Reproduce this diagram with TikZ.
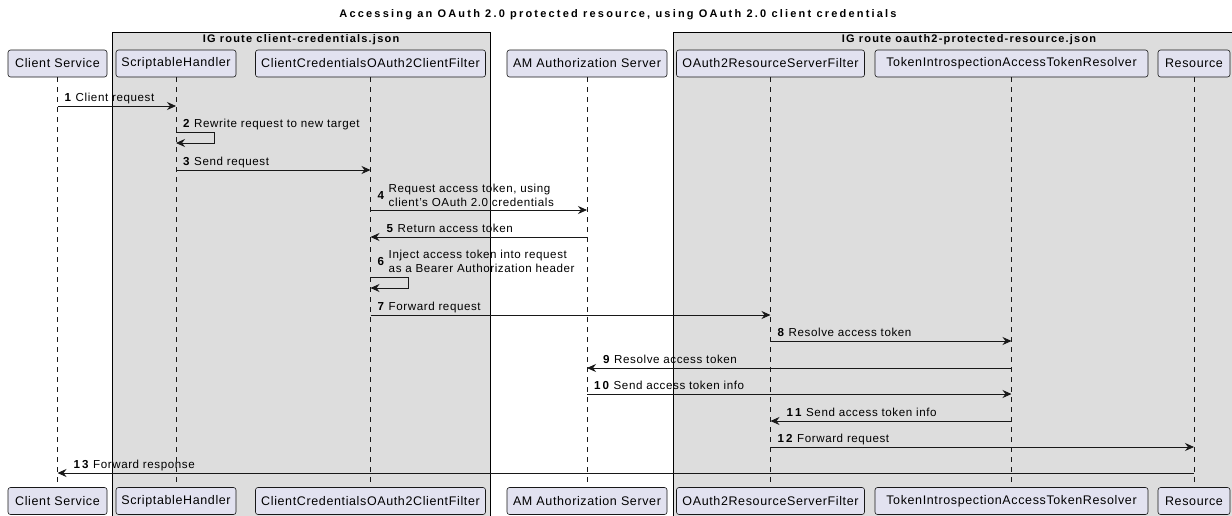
\documentclass[tikz,border=0pt]{standalone}
\usepackage{fontspec}
\setmainfont{Liberation Sans}
\usetikzlibrary{arrows.meta}
\definecolor{partfill}{HTML}{E2E2F0}
\definecolor{inkgray}{HTML}{181818}
\definecolor{groupfill}{HTML}{DDDDDD}
\newcommand{\stepno}[1]{\textbf{#1}\hspace{4pt}}

\begin{document}
\begin{tikzpicture}[x=1pt, y=-1pt, >={Stealth[length=9pt, width=8pt, inset=3pt]},
    partbox/.style={draw=inkgray, fill=partfill, rounded corners=2.5pt, line width=0.6pt,
      inner sep=0pt, minimum height=27pt,
      font=\fontsize{12.5}{15}\selectfont\addfontfeature{LetterSpace=5}},
    groupbox/.style={draw=black, fill=groupfill, line width=0.8pt},
    grouptitle/.style={font=\fontsize{11}{13}\selectfont\bfseries\addfontfeature{LetterSpace=11}, inner sep=0pt},
    lifeline/.style={draw=inkgray, line width=0.5pt, dash pattern=on 5pt off 5pt},
    msg/.style={->, draw=inkgray, line width=0.8pt},
    lbl/.style={font=\fontsize{11.6}{14}\selectfont\addfontfeature{LetterSpace=5}, inner sep=0pt, anchor=base west},
    lbltwo/.style={font=\fontsize{11.6}{14}\selectfont\addfontfeature{LetterSpace=5}, inner sep=0pt, anchor=west}]
  \useasboundingbox (0,0) rectangle (1232,515);
  \clip (0,0) rectangle (1232,515);
  \fill[white] (0,0) rectangle (1232,515);

  \node[font=\fontsize{11}{13}\selectfont\bfseries\addfontfeature{LetterSpace=20}, inner sep=0pt] (title) at (618,15)
    {Accessing an OAuth 2.0 protected resource, using OAuth 2.0 client credentials};

  % boxes round the IG routes
  \path[groupbox] (112,32) rectangle (490,530);
  \path[groupbox] (673,32) rectangle (1266,530);
  \node[grouptitle] (g1) at (301,40) {IG route client-credentials.json};
  \node[grouptitle] (g2) at (969,40) {IG route oauth2-protected-resource.json};

  % participants, top and bottom
  \node[partbox, minimum width=99pt] (cs) at (57.5,63.5) {Client Service};
  \node[partbox, minimum width=120pt] (sh) at (176,63.5) {ScriptableHandler};
  \node[partbox, minimum width=230pt] (ccf) at (370.5,63.5) {ClientCredentialsOAuth2ClientFilter};
  \node[partbox, minimum width=160pt] (am) at (587,63.5) {AM Authorization Server};
  \node[partbox, minimum width=188pt] (rsf) at (770.5,63.5) {OAuth2ResourceServerFilter};
  \node[partbox, minimum width=273pt] (tir) at (1011.5,63.5) {TokenIntrospectionAccessTokenResolver};
  \node[partbox, minimum width=72pt] (res) at (1194,63.5) {Resource};

  \node[partbox, minimum width=99pt] (csB) at (57.5,501) {Client Service};
  \node[partbox, minimum width=120pt] (shB) at (176,501) {ScriptableHandler};
  \node[partbox, minimum width=230pt] (ccfB) at (370.5,501) {ClientCredentialsOAuth2ClientFilter};
  \node[partbox, minimum width=160pt] (amB) at (587,501) {AM Authorization Server};
  \node[partbox, minimum width=188pt] (rsfB) at (770.5,501) {OAuth2ResourceServerFilter};
  \node[partbox, minimum width=273pt] (tirB) at (1011.5,501) {TokenIntrospectionAccessTokenResolver};
  \node[partbox, minimum width=72pt] (resB) at (1194,501) {Resource};

  \draw[lifeline] (cs.south) -- (csB.north);
  \draw[lifeline] (sh.south) -- (shB.north);
  \draw[lifeline] (ccf.south) -- (ccfB.north);
  \draw[lifeline] (am.south) -- (amB.north);
  \draw[lifeline] (rsf.south) -- (rsfB.north);
  \draw[lifeline] (tir.south) -- (tirB.north);
  \draw[lifeline] (res.south) -- (resB.north);

  % message rows
  \coordinate (m1) at (0,106);
  \coordinate (m2) at (0,132);
  \coordinate (m2b) at (0,143);
  \coordinate (m3) at (0,170);
  \coordinate (m4) at (0,210);
  \coordinate (m5) at (0,237);
  \coordinate (m6) at (0,277);
  \coordinate (m6b) at (0,288);
  \coordinate (m7) at (0,315);
  \coordinate (m8) at (0,341);
  \coordinate (m9) at (0,368);
  \coordinate (m10) at (0,394);
  \coordinate (m11) at (0,421);
  \coordinate (m12) at (0,447);
  \coordinate (m13) at (0,473);

  \draw[msg] (cs |- m1) -- (sh |- m1);
  \node[lbl] (l1) at ([shift={(7,-5)}]cs |- m1) {\stepno{1}Client request};

  \draw[msg] (sh |- m2) -- ++(38,0) |- (sh |- m2b);
  \node[lbl] (l2) at ([shift={(7,-5)}]sh |- m2) {\stepno{2}Rewrite request to new target};

  \draw[msg] (sh |- m3) -- (ccf |- m3);
  \node[lbl] (l3) at ([shift={(7,-5)}]sh |- m3) {\stepno{3}Send request};

  \draw[msg] (ccf |- m4) -- (am |- m4);
  \node[lbltwo] (l4) at ([shift={(7,-13.7)}]ccf |- m4)
    {\stepno{4}\begin{tabular}[c]{@{}l@{}}Request access token, using\\client's OAuth 2.0 credentials\end{tabular}};

  \draw[msg] (am |- m5) -- (ccf |- m5);
  \node[lbl] (l5) at ([shift={(16,-5)}]ccf |- m5) {\stepno{5}Return access token};

  \draw[msg] (ccf |- m6) -- ++(38,0) |- (ccf |- m6b);
  \node[lbltwo] (l6) at ([shift={(7,-14.7)}]ccf |- m6)
    {\stepno{6}\begin{tabular}[c]{@{}l@{}}Inject access token into request\\as a Bearer Authorization header\end{tabular}};

  \draw[msg] (ccf |- m7) -- (rsf |- m7);
  \node[lbl] (l7) at ([shift={(7,-5)}]ccf |- m7) {\stepno{7}Forward request};

  \draw[msg] (rsf |- m8) -- (tir |- m8);
  \node[lbl] (l8) at ([shift={(7,-5)}]rsf |- m8) {\stepno{8}Resolve access token};

  \draw[msg] (tir |- m9) -- (am |- m9);
  \node[lbl] (l9) at ([shift={(16,-5)}]am |- m9) {\stepno{9}Resolve access token};

  \draw[msg] (am |- m10) -- (tir |- m10);
  \node[lbl] (l10) at ([shift={(7,-5)}]am |- m10) {\stepno{1\hspace{2pt}0}Send access token info};

  \draw[msg] (tir |- m11) -- (rsf |- m11);
  \node[lbl] (l11) at ([shift={(16,-5)}]rsf |- m11) {\stepno{1\hspace{2pt}1}Send access token info};

  \draw[msg] (rsf |- m12) -- (res |- m12);
  \node[lbl] (l12) at ([shift={(7,-5)}]rsf |- m12) {\stepno{1\hspace{2pt}2}Forward request};

  \draw[msg] (res |- m13) -- (cs |- m13);
  \node[lbl] (l13) at ([shift={(16,-5)}]cs |- m13) {\stepno{1\hspace{2pt}3}Forward response};
\end{tikzpicture}
\end{document}
